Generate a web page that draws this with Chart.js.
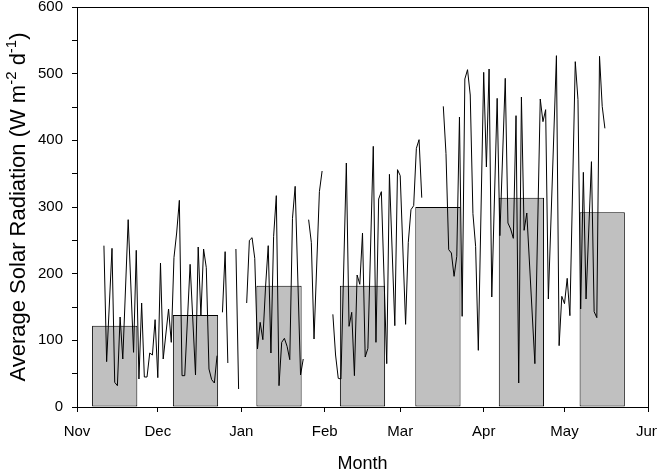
<!DOCTYPE html>
<html>
<head>
<meta charset="utf-8">
<script src="https://cdn.jsdelivr.net/npm/chart.js@4.4.0/dist/chart.umd.min.js"></script>
<style>
  html, body { margin: 0; padding: 0; background: #fff; }
</style>
</head>
<body>
<canvas id="chart" width="657" height="471"></canvas>
<script>
// --- Eje X: días contados desde el 1 de noviembre ---
const monthStarts = [0, 30, 61, 92, 120, 151, 181, 212];
const monthLabels = ['Nov', 'Dec', 'Jan', 'Feb', 'Mar', 'Apr', 'May', 'Jun'];

// --- Promedio mensual (barras, a mitad de mes) ---
const barDays = [14, 44, 75, 106, 134, 165, 195];
const monthlyMean = [122, 138, 182, 182, 300, 314, 292];

// --- Radiación diaria (null = sin datos, corta la línea) ---
const dailyDays = [
    10, 11, 13, 14, 15, 16, 17, 19, 21, 22, 23, 24, 25, 26, 27, 28, 29, 30, 31, 32,
    34, 35, 36, 37, 38, 39, 40, 42, 44, 45, 46, 47, 48, 49, 50, 51, 52, 53,
    54, 55, 56, 57,
    59, 60, 61,
    63, 64, 65, 66, 67, 68, 69, 70, 71, 72, 73, 74, 75, 76, 77, 78, 79, 80, 81, 83, 84, 85,
    86, 87, 88, 90, 91, 93,
    95, 96, 97, 98, 100, 101, 102, 103, 104, 105, 106, 107, 108, 110, 111, 112, 113, 115, 116,
    118, 119, 120, 122, 123, 124, 125, 126, 127, 128, 132,
    136, 137, 138, 139, 140, 141, 142, 143, 144, 145, 146, 147, 148, 149, 151, 152, 153, 154,
    156, 157, 159, 160, 161, 162, 163, 164, 165, 166, 167, 170, 172, 173, 174, 175, 178, 179,
    180, 181, 182, 183, 185, 186, 187, 188, 189, 191, 192, 193, 194, 195, 196
];
const dailyRad = [
    242, 68, 238, 37, 32, 135, 72, 281, 82, 235, 42, 156, 45, 45, 81, 78, 131, 44, 216, 72,
    147, 97, 224, 261, 310, 47, 47, 214, 48, 240, 137, 237, 209, 57, 41, 36, 77, null,
    142, 233, 66, null,
    237, 27, null,
    156, 250, 254, 223, 87, 127, 101, 180, 242, 81, 256, 317, 32, 97, 103, 91, 71, 283, 331, 48, 72, null,
    281, 247, 102, 323, 354, null,
    139, 78, 43, 42, 366, 121, 142, 47, 198, 184, 261, 75, 88, 391, 97, 312, 323, 65, 349,
    122, 356, 347, 124, 247, 296, 302, 388, 401, 314, null,
    451, 380, 236, 231, 196, 226, 435, 136, 492, 506, 468, 290, 241, 85, 502, 360, 507, 165,
    463, 257, 493, 276, 267, 253, 437, 36, 465, 265, 291, 65, 462, 428, 446, 162, 527, 92,
    166, 155, 193, 137, 518, 461, 147, 352, 162, 368, 143, 134, 526, 451, 418
];

const FONT = '"Liberation Sans", Arial, sans-serif';
Chart.defaults.font.family = FONT;
Chart.defaults.color = '#000';

// Marco completo alrededor del área de trazado
const framePlugin = {
    id: 'frame',
    afterDraw(chart) {
        const a = chart.chartArea;
        const ctx = chart.ctx;
        ctx.save();
        ctx.strokeStyle = '#000';
        ctx.lineWidth = 1;
        ctx.strokeRect(Math.round(a.left) + 0.5, Math.round(a.top) + 0.5,
            Math.round(a.right - a.left), Math.round(a.bottom - a.top));
        ctx.restore();
    }
};

// Título del eje Y con superíndices
const yTitlePlugin = {
    id: 'yTitle',
    afterDraw(chart) {
        const ctx = chart.ctx;
        const a = chart.chartArea;
        const parts = [
            ['Average Solar Radiation (W m', 22, 0],
            ['-2', 15, -7],
            [' d', 22, 0],
            ['-1', 15, -7],
            [')', 22, 0]
        ];
        ctx.save();
        let total = 0;
        parts.forEach(p => {
            ctx.font = p[1] + 'px ' + FONT;
            total += ctx.measureText(p[0]).width;
        });
        ctx.translate(19, (a.top + a.bottom) / 2);
        ctx.rotate(-Math.PI / 2);
        ctx.fillStyle = '#000';
        ctx.textBaseline = 'middle';
        let x = -total / 2;
        parts.forEach(p => {
            ctx.font = p[1] + 'px ' + FONT;
            ctx.fillText(p[0], x, p[2]);
            x += ctx.measureText(p[0]).width;
        });
        ctx.restore();
    }
};

new Chart(document.getElementById('chart'), {
    type: 'line',
    data: {
        datasets: [
            {
                type: 'line',
                label: 'Daily',
                data: dailyDays.map((d, i) => ({ x: d, y: dailyRad[i] })),
                borderColor: '#000',
                borderWidth: 1,
                pointRadius: 0,
                tension: 0,
                spanGaps: false,
                fill: false,
                order: 0
            },
            {
                type: 'bar',
                label: 'Monthly',
                data: barDays.map((d, i) => ({ x: d, y: monthlyMean[i] })),
                backgroundColor: '#c0c0c0',
                borderColor: '#000',
                borderWidth: 1,
                borderSkipped: false,
                barPercentage: 1,
                categoryPercentage: 0.6,
                order: 1
            }
        ]
    },
    options: {
        responsive: false,
        animation: false,
        layout: { padding: { top: 7, right: 9, left: 0, bottom: 0 } },
        plugins: { legend: { display: false }, tooltip: { enabled: false } },
        scales: {
            x: {
                type: 'linear',
                min: 0,
                max: 212,
                offset: false,
                afterBuildTicks: s => { s.ticks = monthStarts.map(v => ({ value: v })); },
                afterFit: s => { s.height = 64; s.paddingLeft = 0; s.paddingRight = 0; },
                ticks: {
                    autoSkip: false,
                    maxRotation: 0,
                    padding: 11,
                    font: { size: 15 },
                    callback: v => monthLabels[monthStarts.indexOf(v)]
                },
                grid: { drawOnChartArea: false, drawTicks: true, tickLength: 5, color: '#000', offset: false },
                border: { color: '#000', width: 1 },
                title: { display: true, text: 'Month', font: { size: 18, lineHeight: 0.8 }, padding: 0 }
            },
            y: {
                min: 0,
                max: 600,
                afterFit: s => { s.width = 77; s.paddingTop = 0; s.paddingBottom = 0; },
                ticks: {
                    stepSize: 50,
                    padding: 9,
                    font: { size: 15 },
                    callback: v => (v % 100 === 0 ? v : '')
                },
                grid: { drawOnChartArea: false, drawTicks: true, tickLength: 5, color: '#000' },
                border: { color: '#000', width: 1 }
            }
        }
    },
    plugins: [framePlugin, yTitlePlugin]
});
</script>
</body>
</html>
